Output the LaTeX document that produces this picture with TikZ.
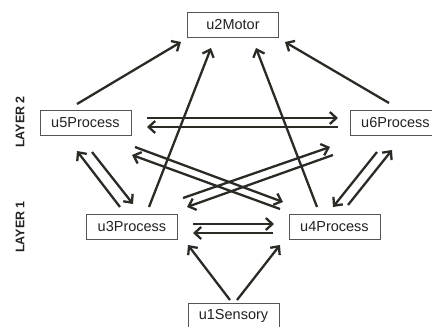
\documentclass[tikz,border=0pt]{standalone}
\usepackage{fontspec}
\setmainfont{Liberation Sans}
\usetikzlibrary{arrows.meta,calc}
\definecolor{edgecol}{HTML}{2B2A25}
\definecolor{boxcol}{HTML}{555555}
\definecolor{txtcol}{HTML}{222222}
\tikzset{
  unit/.style={draw=boxcol, line width=0.8pt, fill=white, minimum width=91pt, minimum height=25pt, inner sep=0pt, text=txtcol, font=\fontsize{14.5}{16}\selectfont},
  layerlab/.style={rotate=90, text=txtcol, font=\fontsize{12.5}{14}\selectfont\bfseries},
  conn/.style={draw=edgecol, line width=2.3pt, -{Straight Barb[length=6.5pt,width=12pt,line width=2.3pt]}}
}
\begin{document}
\begin{tikzpicture}[x=1pt,y=-1pt]
\useasboundingbox (0,0) rectangle (432,327);
\clip (0,0) rectangle (432,327);
\node[unit] (u2) at (233,24.5) {u2Motor};
\node[unit] (u5) at (85.5,123) {u5Process};
\node[unit] (u6) at (395.5,123) {u6Process};
\node[unit] (u3) at (132,227) {u3Process};
\node[unit] (u4) at (334.5,227) {u4Process};
\node[unit] (u1) at (233.5,315.5) {u1Sensory};
\node[layerlab] (l2) at (20,122) {LAYER 2};
\node[layerlab] (l1) at (20,227) {LAYER 1};
% to u2
\draw[conn] ($(u5)+(-8.5,-19)$) -- ($(u2)+(-52,17.5)$);
\draw[conn] ($(u6)+(-6.5,-20)$) -- ($(u2)+(52,17.5)$);
\draw[conn] ($(u3)+(17,-20)$) -- ($(u2)+(-22,23.5)$);
\draw[conn] ($(u4)+(-17.5,-20)$) -- ($(u2)+(23,23.5)$);
% u5 <-> u6
\draw[conn] ($(u5)+(61.5,-5)$) -- ($(u6)+(-57.5,-5)$);
\draw[conn] ($(u6)+(-57.5,4)$) -- ($(u5)+(61.5,4)$);
% u3 <-> u5
\draw[conn] ($(u3)+(-12,-20)$) -- ($(u5)+(-8.5,28)$);
\draw[conn] ($(u5)+(6.5,29)$) -- ($(u3)+(1,-23)$);
% u5 <-> u4
\draw[conn] ($(u5)+(49.5,24)$) -- ($(u4)+(-51.5,-25)$);
\draw[conn] ($(u4)+(-54.5,-18)$) -- ($(u5)+(46.5,32)$);
% u3 <-> u6
\draw[conn] ($(u3)+(51,-29)$) -- ($(u6)+(-65.5,24)$);
\draw[conn] ($(u6)+(-62.5,32)$) -- ($(u3)+(55,-20)$);
% u6 <-> u4
\draw[conn] ($(u6)+(-18.5,29)$) -- ($(u4)+(-1.5,-20)$);
\draw[conn] ($(u4)+(13.5,-22)$) -- ($(u6)+(-3.5,27)$);
% u3 <-> u4
\draw[conn] ($(u3)+(61,-3)$) -- ($(u4)+(-60.5,-3)$);
\draw[conn] ($(u4)+(-61.5,6)$) -- ($(u3)+(61,6)$);
% from u1
\draw[conn] ($(u1)+(-3.5,-15.5)$) -- ($(u3)+(56,18)$);
\draw[conn] ($(u1)+(3.5,-15.5)$) -- ($(u4)+(-54.5,18)$);
\end{tikzpicture}
\end{document}
